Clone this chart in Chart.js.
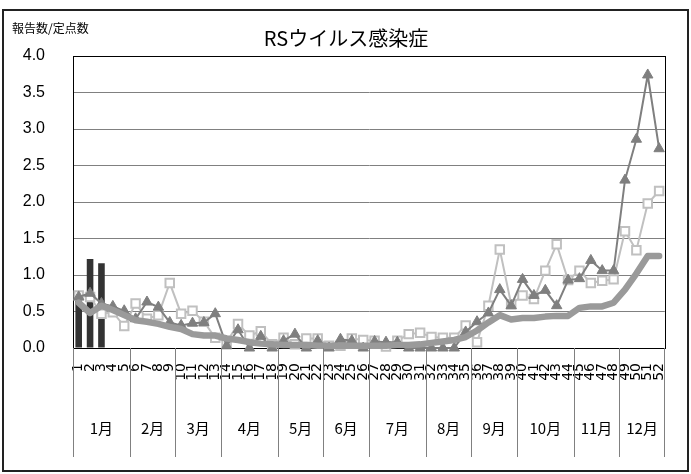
<!DOCTYPE html>
<html><head><meta charset="utf-8">
<script src="https://cdn.jsdelivr.net/npm/chart.js@4.4.0/dist/chart.umd.min.js"></script>
<style>html,body{margin:0;padding:0;background:#fff}</style>
</head><body>
<canvas id="c" width="691" height="474"></canvas>
<script>
const weekLabels = ['1','2','3','4','5','6','7','8','9','10','11','12','13','14','15','16','17','18','19','20','21','22','23','24','25','26','27','28','29','30','31','32','33','34','35','36','37','38','39','40','41','42','43','44','45','46','47','48','49','50','51','52'];
const monthLabels = ['1月','2月','3月','4月','5月','6月','7月','8月','9月','10月','11月','12月'];
const monthWeekCounts = [5,4,4,5,4,4,5,4,4,5,4,4];
const yTickLabels = ['0.0','0.5','1.0','1.5','2.0','2.5','3.0','3.5','4.0'];
const titleText = 'RSウイルス感染症';
const unitText = '報告数/定点数';

const currentYear = [0.72,1.22,1.16,null,null,null,null,null,null,null,null,null,null,null,null,null,null,null,null,null,null,null,null,null,null,null,null,null,null,null,null,null,null,null,null,null,null,null,null,null,null,null,null,null,null,null,null,null,null,null,null,null];
const pastAverage = [0.62,0.48,0.58,0.52,0.45,0.38,0.36,0.33,0.29,0.26,0.19,0.17,0.17,0.13,0.11,0.08,0.06,0.05,0.04,0.04,0.04,0.03,0.03,0.03,0.03,0.03,0.03,0.03,0.04,0.04,0.05,0.07,0.09,0.11,0.15,0.24,0.35,0.45,0.39,0.41,0.41,0.43,0.44,0.44,0.55,0.57,0.57,0.62,0.80,1.02,1.26,1.26];
const lastYear = [0.70,0.75,0.61,0.57,0.51,0.40,0.63,0.56,0.35,0.31,0.34,0.35,0.47,0.03,0.25,0.00,0.16,0.00,0.10,0.19,0.00,0.10,0.00,0.12,0.10,0.00,0.09,0.08,0.08,0.00,0.00,0.00,0.00,0.00,0.22,0.36,0.48,0.80,0.58,0.94,0.72,0.79,0.58,0.93,0.95,1.20,1.06,1.06,2.30,2.86,3.74,2.73];
const twoYearsAgo = [0.72,0.70,0.47,0.49,0.30,0.61,0.40,0.45,0.89,0.47,0.51,0.36,0.14,0.08,0.33,0.17,0.23,0.05,0.14,0.05,0.13,0.13,0.03,0.03,0.13,0.11,0.10,0.02,0.10,0.19,0.21,0.15,0.14,0.14,0.31,0.08,0.58,1.35,0.60,0.72,0.67,1.06,1.42,0.93,1.06,0.89,0.92,0.94,1.60,1.34,1.98,2.15];

const decor = {
  id: 'decor',
  beforeDraw(chart) {
    const ctx = chart.ctx;
    ctx.save();
    ctx.fillStyle = '#fff';
    ctx.fillRect(0, 0, chart.width, chart.height);
    ctx.strokeStyle = '#222';
    ctx.lineWidth = 2;
    ctx.strokeRect(3, 10, 685, 461);
    ctx.fillStyle = '#000';
    ctx.textBaseline = 'middle';
    ctx.textAlign = 'center';
    ctx.font = '20px "Noto Sans CJK JP"';
    ctx.fillText(titleText, 346, 38);
    ctx.textAlign = 'left';
    ctx.font = '12px "Noto Sans CJK JP"';
    ctx.fillText(unitText, 12, 28);
    ctx.restore();
  },
  beforeDatasetsDraw(chart) {
    const ctx = chart.ctx, a = chart.chartArea;
    ctx.save();
    ctx.strokeStyle = '#000';
    ctx.lineWidth = 1;
    ctx.strokeRect(Math.round(a.left) + 0.5, Math.round(a.top) + 0.5, Math.round(a.right - a.left), Math.round(a.bottom - a.top));
    ctx.restore();
  },
  afterDraw(chart) {
    const ctx = chart.ctx, x = chart.scales.x;
    const top = chart.chartArea.bottom, bottom = top + 109;
    ctx.save();
    ctx.strokeStyle = '#808080';
    ctx.lineWidth = 1;
    ctx.fillStyle = '#000';
    ctx.font = '15px "Noto Sans CJK JP"';
    ctx.textAlign = 'center';
    ctx.textBaseline = 'middle';
    let start = 0;
    const edge = (i) => i === 0 ? x.left : (i >= weekLabels.length ? x.right : (x.getPixelForTick(i - 1) + x.getPixelForTick(i)) / 2);
    for (let m = 0; m < monthLabels.length; m++) {
      const l = edge(start), r = edge(start + monthWeekCounts[m]);
      ctx.beginPath();
      ctx.moveTo(Math.round(l) + 0.5, top);
      ctx.lineTo(Math.round(l) + 0.5, bottom);
      ctx.stroke();
      if (m === monthLabels.length - 1) {
        ctx.beginPath();
        ctx.moveTo(Math.round(r) - 0.5, top);
        ctx.lineTo(Math.round(r) - 0.5, bottom);
        ctx.stroke();
      }
      ctx.fillText(monthLabels[m], (l + r) / 2, 428);
      start += monthWeekCounts[m];
    }
    ctx.restore();
  }
};

new Chart(document.getElementById('c'), {
  data: {
    labels: weekLabels,
    datasets: [
      { type: 'line', label: '過去平均', data: pastAverage, borderColor: '#9a9a9a', borderWidth: 6.5, pointRadius: 0, borderCapStyle: 'round', borderJoinStyle: 'round', order: 0, clip: 10 },
      { type: 'line', label: '前年', data: lastYear, borderColor: '#7f7f7f', borderWidth: 2, pointStyle: 'triangle', pointRadius: 6, pointBorderWidth: 1, pointBackgroundColor: '#7f7f7f', pointBorderColor: '#7f7f7f', order: 1, clip: 10 },
      { type: 'line', label: '前々年', data: twoYearsAgo, borderColor: '#c0c0c0', borderWidth: 2, pointStyle: 'rect', pointRadius: 6, pointBorderWidth: 2, pointBackgroundColor: '#ffffff', pointBorderColor: '#c0c0c0', order: 2, clip: 10 },
      { type: 'bar', label: '今年', data: currentYear, backgroundColor: '#333333', categoryPercentage: 1, barPercentage: 0.58, order: 3 }
    ]
  },
  options: {
    responsive: false,
    devicePixelRatio: 1,
    animation: false,
    events: [],
    layout: { padding: { left: 0, right: 7, top: 56, bottom: 0 } },
    plugins: { legend: { display: false }, title: { display: false }, tooltip: { enabled: false } },
    scales: {
      x: {
        type: 'category',
        offset: true,
        grid: { display: false, drawTicks: false },
        border: { color: '#000', width: 1 },
        ticks: { autoSkip: false, maxRotation: 90, minRotation: 90, padding: 15, color: '#000', font: { family: 'DejaVu Sans', size: 14 } },
        afterFit(s) { s.height = 126; }
      },
      y: {
        min: 0, max: 4,
        grid: { color: '#808080', drawTicks: false },
        border: { color: '#000', width: 1 },
        ticks: { stepSize: 0.5, padding: 28, color: '#000', font: { family: 'Liberation Sans', size: 16 }, callback: (v, i) => yTickLabels[i] },
        afterFit(s) { s.width = 73; }
      }
    }
  },
  plugins: [decor]
});
</script>
</body></html>
